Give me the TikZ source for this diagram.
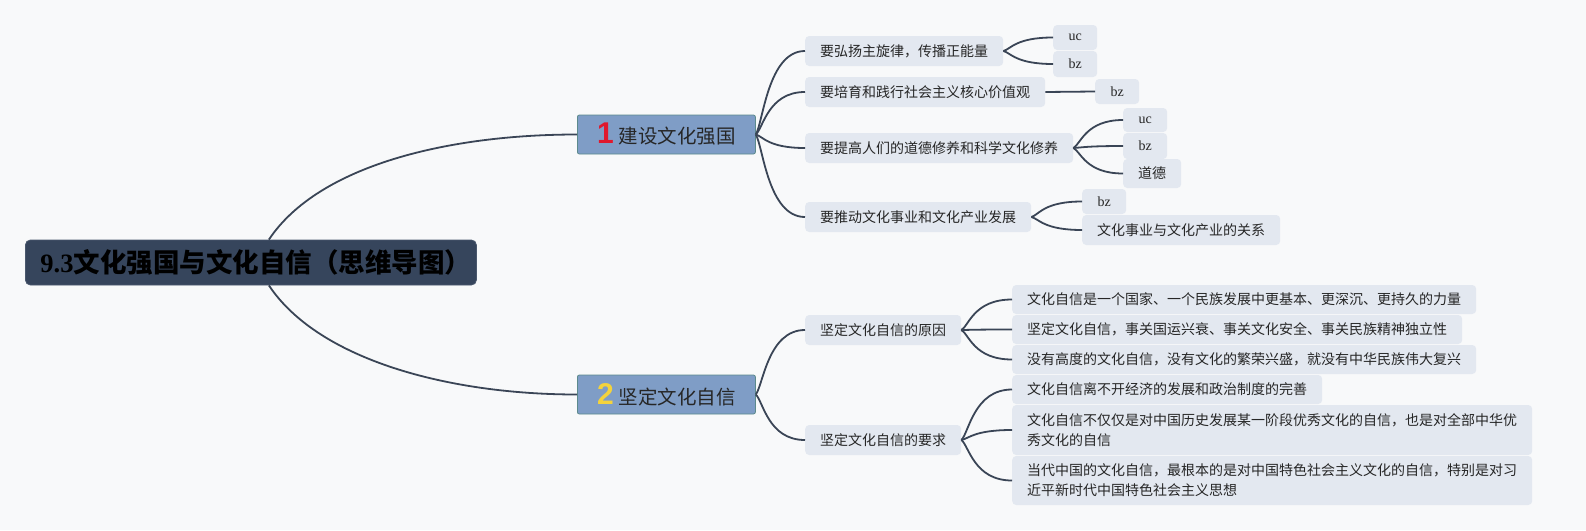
\documentclass[tikz,border=0pt]{standalone}
\usepackage{fontspec}
\setmainfont{Noto Sans CJK SC}
\newfontfamily\serif{Liberation Serif}
\newfontfamily\digitf{Liberation Sans}
\usetikzlibrary{calc}
\definecolor{bgc}{HTML}{F8F9FA}
\definecolor{rootc}{HTML}{36455C}
\definecolor{rootd}{HTML}{4A586D}
\definecolor{brc}{HTML}{7F9DC6}
\definecolor{brd}{HTML}{5C8A8C}
\definecolor{leafc}{HTML}{E3E8F0}
\definecolor{linec}{HTML}{3A4556}
\definecolor{txtc}{HTML}{262626}
\definecolor{redc}{HTML}{E0182D}
\definecolor{yelc}{HTML}{F4D33C}
\tikzset{
  rootbox/.style={fill=rootc, draw=rootd, line width=0.8pt, rounded corners=5pt, anchor=west,
    text width=421pt, align=left, inner xsep=15pt, inner ysep=0pt, minimum height=45pt,
    font=\fontsize{26.5}{28}\selectfont\bfseries, text=black},
  brbox/.style={fill=brc, draw=brd, line width=0.8pt, rounded corners=2pt, anchor=west,
    minimum width=178pt, minimum height=39pt, inner ysep=0pt,
    font=\fontsize{19.5}{22}\selectfont, text=txtc},
  leaf/.style={fill=leafc, rounded corners=4pt, anchor=west, inner xsep=15pt, inner ysep=0pt,
    font=\fontsize{14}{20}\selectfont, text=txtc, align=left},
  sleaf/.style={leaf, font=\serif\fontsize{14}{20}\selectfont, minimum width=44pt, inner xsep=0pt},
  conn/.style={draw=linec, line width=1.8pt},
  curv/.style={to path={let \p1=($(\tikztostart)!0.15!(\tikztotarget)$),
      \p2=($(\tikztostart)!0.25!(\tikztotarget)$), \p3=(\tikztotarget) in
      .. controls (\p1) and (\x2,\y3) .. (\tikztotarget)}}
}
\begin{document}
\begin{tikzpicture}[x=1pt,y=1pt]
\fill[bgc] (0,0) rectangle (1586,-530);
\useasboundingbox (0,0) rectangle (1586,-530);

% root and main branches
\node[rootbox] (root) at (25,-262.5) {{\serif\bfseries 9.3}文化强国与文化自信（思维导图）};
\node[brbox] (b1) at (577,-134.5) {{\digitf\bfseries\fontsize{30}{30}\selectfont\color{redc}1}\hspace{5pt}建设文化强国};
\node[brbox] (b2) at (577,-394.5) {{\digitf\bfseries\fontsize{30}{30}\selectfont\color{yelc}2}\hspace{5pt}坚定文化自信};

% branch 1 children
\node[leaf, minimum height=30pt] (a1) at (805,-51) {要弘扬主旋律，传播正能量};
\node[sleaf, minimum height=25pt] (a1u) at (1053,-37.5) {uc};
\node[sleaf, minimum height=26pt] (a1b) at (1053,-64) {bz};
\node[leaf, minimum height=30pt] (a2) at (805,-92) {要培育和践行社会主义核心价值观};
\node[sleaf, minimum height=25pt] (a2b) at (1095,-91.5) {bz};
\node[leaf, minimum height=30pt] (a3) at (805,-148) {要提高人们的道德修养和科学文化修养};
\node[sleaf, minimum height=24pt] (a3u) at (1123,-120) {uc};
\node[sleaf, minimum height=26pt] (a3b) at (1123,-146) {bz};
\node[leaf, minimum height=29pt] (a3d) at (1123,-173.5) {道德};
\node[leaf, minimum height=30pt] (a4) at (805,-217) {要推动文化事业和文化产业发展};
\node[sleaf, minimum height=25pt] (a4b) at (1082,-201.5) {bz};
\node[leaf, minimum height=30pt] (a4r) at (1082,-230) {文化事业与文化产业的关系};

% branch 2 children
\node[leaf, minimum height=30pt] (bb1) at (805,-330) {坚定文化自信的原因};
\node[leaf, minimum height=30pt] (bb2) at (805,-440) {坚定文化自信的要求};
\node[leaf, minimum height=29pt] (c1) at (1012,-299.5) {文化自信是一个国家、一个民族发展中更基本、更深沉、更持久的力量};
\node[leaf, minimum height=29pt] (c2) at (1012,-329.5) {坚定文化自信，事关国运兴衰、事关文化安全、事关民族精神独立性};
\node[leaf, minimum height=29pt] (c3) at (1012,-359.5) {没有高度的文化自信，没有文化的繁荣兴盛，就没有中华民族伟大复兴};
\node[leaf, minimum height=29pt] (d1) at (1012,-389.5) {文化自信离不开经济的发展和政治制度的完善};
\node[leaf, minimum height=50pt] (d2) at (1012,-430) {文化自信不仅仅是对中国历史发展某一阶段优秀文化的自信，也是对全部中华优\\秀文化的自信};
\node[leaf, minimum height=49pt] (d3) at (1012,-480.5) {当代中国的文化自信，最根本的是对中国特色社会主义文化的自信，特别是对习\\近平新时代中国特色社会主义思想};

% root connectors
\draw[conn] ([xshift=18pt]root.north) .. controls +(50,75) and +(-127,0) .. (b1.west);
\draw[conn] ([xshift=18pt]root.south) .. controls +(50,-75) and +(-127,0) .. (b2.west);

% branch 1 connectors
\foreach \t in {a1,a2,a3,a4} \draw[conn] (b1.east) to[curv] (\t.west);
\foreach \t in {a1u,a1b} \draw[conn] (a1.east) to[curv] (\t.west);
\draw[conn] (a2.east) -- (a2b.west);
\foreach \t in {a3u,a3b,a3d} \draw[conn] (a3.east) to[curv] (\t.west);
\foreach \t in {a4b,a4r} \draw[conn] (a4.east) to[curv] (\t.west);

% branch 2 connectors
\foreach \t in {bb1,bb2} \draw[conn] (b2.east) to[curv] (\t.west);
\foreach \t in {c1,c2,c3} \draw[conn] (bb1.east) to[curv] (\t.west);
\foreach \t in {d1,d2,d3} \draw[conn] (bb2.east) to[curv] (\t.west);
\end{tikzpicture}
\end{document}
